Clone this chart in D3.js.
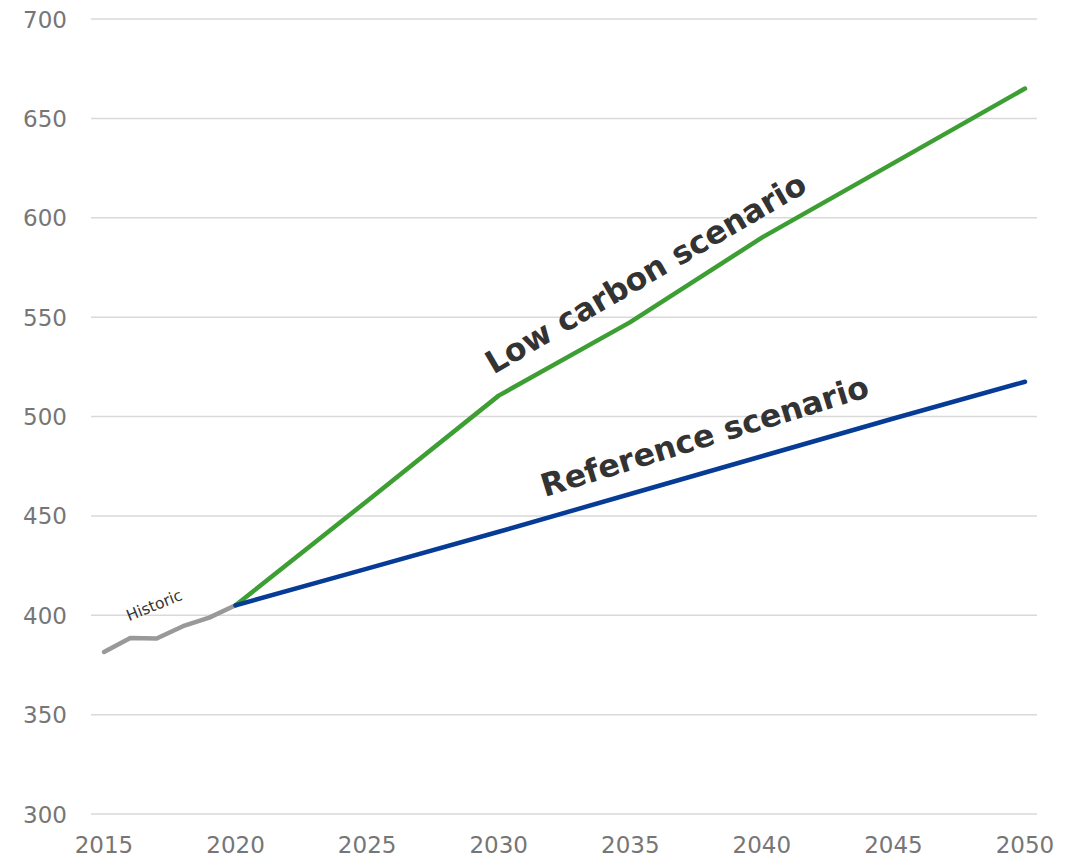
<!DOCTYPE html>
<html>
<head>
<meta charset="utf-8">
<script src="https://cdn.jsdelivr.net/npm/d3@7"></script>
<style>
  body { margin: 0; background: #fff; }
  svg { font-family: "DejaVu Sans", Verdana, sans-serif; }
</style>
</head>
<body>
<div id="chart"></div>
<script>
// values
var histYears = [2015, 2016, 2017, 2018, 2019, 2020];
var histValues = [381.5, 388.5, 388.3, 394.5, 398.8, 405];
var scenYears = [2020, 2025, 2030, 2035, 2040, 2045, 2050];
var lowCarbon = [405, 457.5, 510.5, 547.5, 590, 627.5, 665];
var reference = [405, 423.5, 442, 461, 480, 499, 517.5];
var xTicks = [2015, 2020, 2025, 2030, 2035, 2040, 2045, 2050];
var yTicks = [300, 350, 400, 450, 500, 550, 600, 650, 700];

var width = 1082, height = 858;
var svg = d3.select('#chart').append('svg').attr('width', width).attr('height', height);

var x = d3.scaleLinear().domain([2015, 2050]).range([104, 1025]);
var y = d3.scaleLinear().domain([300, 700]).range([814, 19]);

// gridlines
svg.append('g').selectAll('line').data(yTicks).enter().append('line')
  .attr('x1', 91).attr('x2', 1037)
  .attr('y1', function(d) { return y(d); })
  .attr('y2', function(d) { return y(d); })
  .style('stroke', '#d9d9d9').style('stroke-width', 1.5);

// y tick labels
svg.append('g').selectAll('text').data(yTicks).enter().append('text')
  .attr('x', 67).attr('y', function(d) { return y(d) + 8.5; })
  .attr('text-anchor', 'end')
  .style('font-size', '23px').style('fill', '#767676')
  .text(function(d) { return d; });

// x tick labels
svg.append('g').selectAll('text').data(xTicks).enter().append('text')
  .attr('x', function(d) { return x(d); }).attr('y', 853)
  .attr('text-anchor', 'middle')
  .style('font-size', '23px').style('fill', '#767676')
  .text(function(d) { return d; });

var line = d3.line()
  .x(function(d) { return x(d[0]); })
  .y(function(d) { return y(d[1]); });

function drawSeries(years, vals, color) {
  svg.append('path')
    .datum(d3.zip(years, vals))
    .attr('d', line)
    .style('fill', 'none')
    .style('stroke', color)
    .style('stroke-width', 4.5)
    .style('stroke-linecap', 'round')
    .style('stroke-linejoin', 'round');
}

drawSeries(histYears, histValues, '#999999');
drawSeries(scenYears, lowCarbon, '#3d9e33');
drawSeries(scenYears, reference, '#063b96');

function label(txt, yr, val, angle, size, weight) {
  svg.append('text')
    .attr('transform', 'translate(' + x(yr) + ',' + y(val) + ') rotate(' + angle + ')')
    .style('font-size', size + 'px')
    .style('font-weight', weight)
    .style('fill', '#333333')
    .text(txt);
}

label('Low carbon scenario', 2029.8, 521, -30.3, 31.5, 'bold');
label('Reference scenario', 2031.75, 459.5, -17.2, 31.5, 'bold');
label('Historic', 2015.95, 397, -22, 15.5, 'normal');
</script>
</body>
</html>
